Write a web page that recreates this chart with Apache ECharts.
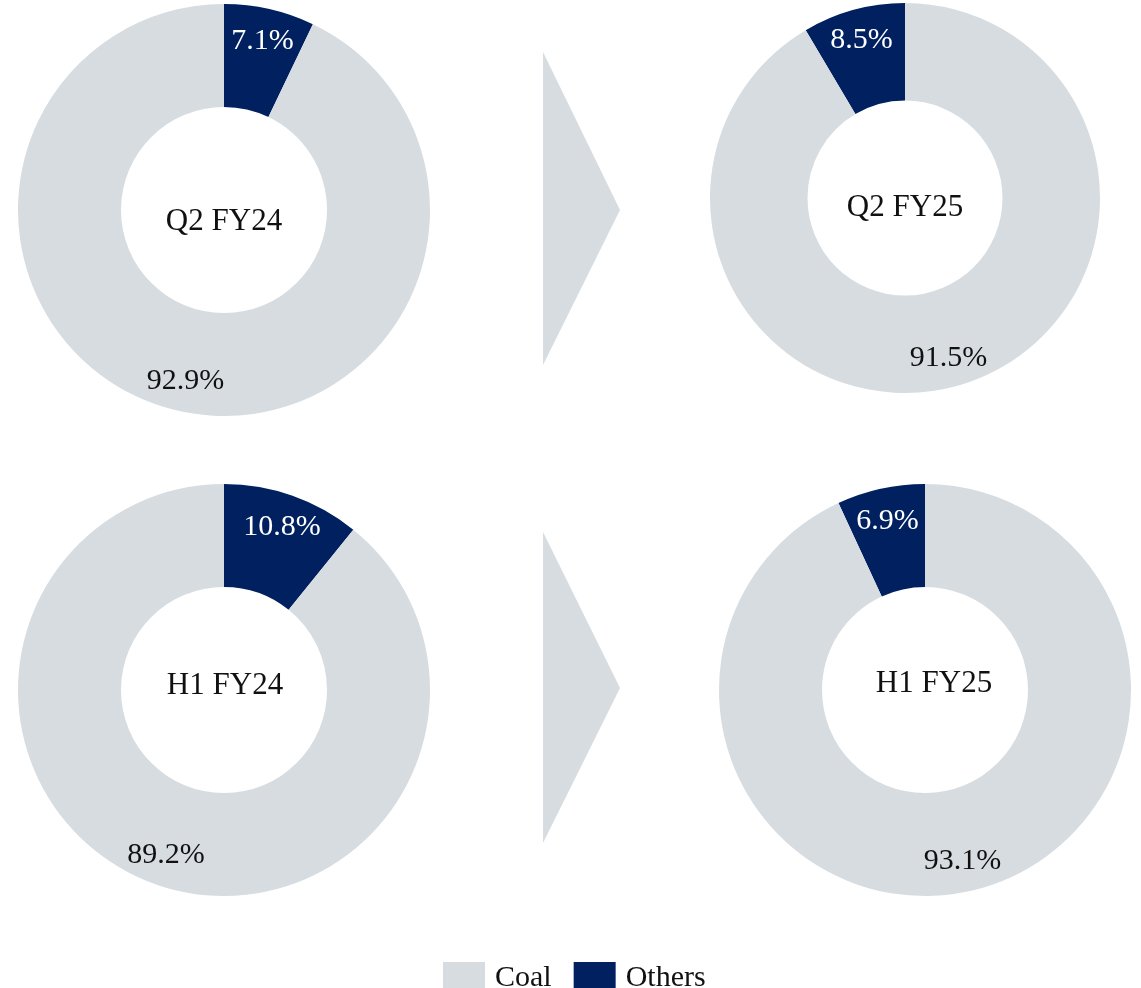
<!DOCTYPE html>
<html>
<head>
<meta charset="utf-8">
<script src="https://cdn.jsdelivr.net/npm/echarts@6/dist/echarts.min.js"></script>
<style>
  html, body { margin: 0; padding: 0; background: #fff; }
  #chart { width: 1141px; height: 988px; }
</style>
</head>
<body>
<div id="chart"></div>
<script>
var periods = ['Q2 FY24', 'Q2 FY25', 'H1 FY24', 'H1 FY25'];
var coal = [92.9, 91.5, 89.2, 93.1];
var others = [7.1, 8.5, 10.8, 6.9];

var COAL = '#D6DCE0';
var OTHERS = '#002060';
var FONT = '"Liberation Serif", serif';

// layout of the four donuts (left ones turn clockwise, right ones the other way)
var centers = [[224, 210], [905, 198], [224, 690], [925, 690]];
var radii = [206, 195, 206, 206];
var clockwise = [true, false, true, false];
var textShift = [[0, 12], [0, 10], [1, -4], [9, -6]];

var myChart = echarts.init(document.getElementById('chart'));

var series = [];
var graphics = [];

periods.forEach(function (p, i) {
    var data = [
        { name: 'Others', value: others[i], itemStyle: { color: OTHERS },
          label: { color: '#ffffff' } },
        { name: 'Coal', value: coal[i], itemStyle: { color: COAL },
          label: { color: '#111111' } }
    ];
    var r = radii[i];
    // the donut itself
    series.push({
        type: 'pie',
        center: centers[i],
        radius: [r * 0.5, r],
        clockwise: clockwise[i],
        startAngle: 90,
        silent: true,
        label: { show: false },
        labelLine: { show: false },
        emphasis: { disabled: true },
        data: data
    });
    // a clear ring on the outer part, only to place the % labels
    series.push({
        type: 'pie',
        center: centers[i],
        radius: [r * 0.66, r],
        clockwise: clockwise[i],
        startAngle: 90,
        silent: true,
        emphasis: { disabled: true },
        itemStyle: { color: 'rgba(0,0,0,0)' },
        label: {
            show: true,
            position: 'inside',
            fontFamily: FONT,
            fontSize: 30,
            offset: [0, 1],
            formatter: function (d) { return d.value.toFixed(1) + '%'; }
        },
        labelLine: { show: false },
        data: data.map(function (d) {
            return { name: d.name, value: d.value, label: d.label,
                     itemStyle: { color: 'rgba(0,0,0,0)' } };
        })
    });
    graphics.push({
        type: 'text',
        x: centers[i][0] + textShift[i][0],
        y: centers[i][1] + textShift[i][1],
        style: {
            text: p,
            fill: '#111111',
            font: '31px ' + FONT,
            textAlign: 'center',
            textVerticalAlign: 'middle'
        }
    });
});

// the two arrows between the donuts
graphics.push({
    type: 'polygon',
    shape: { points: [[543, 52], [620, 210], [543, 365]] },
    style: { fill: COAL }
});
graphics.push({
    type: 'polygon',
    shape: { points: [[543, 532], [620, 688], [543, 843]] },
    style: { fill: COAL }
});

var option = {
    backgroundColor: '#ffffff',
    animation: false,
    legend: {
        left: 438,
        top: 957,
        itemWidth: 42,
        itemHeight: 32,
        itemGap: 22,
        icon: 'rect',
        textStyle: { fontFamily: FONT, fontSize: 30, color: '#111111', padding: [0, 0, 0, 5] },
        data: [
            { name: 'Coal', itemStyle: { color: COAL } },
            { name: 'Others', itemStyle: { color: OTHERS } }
        ]
    },
    graphic: graphics,
    series: series
};

myChart.setOption(option);
</script>
</body>
</html>
